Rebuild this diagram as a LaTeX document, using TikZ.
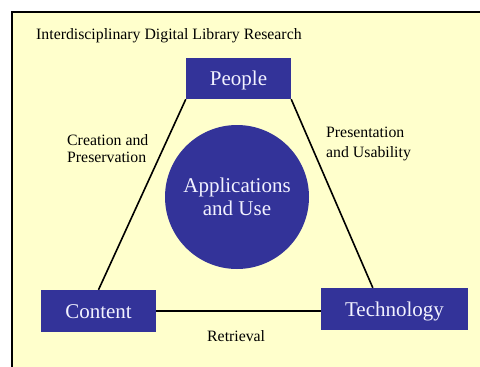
\documentclass[tikz,border=0pt]{standalone}
\usepackage{fontspec}
\setmainfont{Liberation Serif}
\definecolor{bgyellow}{HTML}{FFFFCC}
\definecolor{boxblue}{HTML}{333399}
\definecolor{boxtext}{HTML}{F2F2FF}
\tikzset{
  bluebox/.style={draw=none, fill=boxblue, text=boxtext, inner sep=0pt,
    font=\fontsize{21}{23}\selectfont, text height=14pt, text depth=0pt},
  smalltext/.style={anchor=base west, inner sep=0pt, align=left,
    font=\fontsize{15.8}{18.5}\selectfont, text=black},
  edge/.style={draw=black, line width=1.6pt}
}
\begin{document}
\begin{tikzpicture}[x=1pt, y=-1pt]
\useasboundingbox (0,0) rectangle (480,367);
\fill[white] (0,0) rectangle (480,367);
\fill[bgyellow] (12,12) rectangle (480,367);
\draw[line width=1.5pt] (12,367) -- (12,12) -- (480,12);

\node[smalltext] (title) at (36,39.3) {Interdisciplinary Digital Library Research};

\node[bluebox, minimum width=105pt, minimum height=41pt] (people) at (238.5,78.5) {People};
\node[bluebox, minimum width=115pt, minimum height=42pt] (content) at (98.5,311) {Content};
\node[bluebox, minimum width=147pt, minimum height=42pt] (tech) at (394.5,309) {Technology};

\node[circle, fill=boxblue, text=boxtext, minimum size=144pt, inner sep=0pt,
  align=center, font=\fontsize{21}{23.3}\selectfont] (apps) at (237,197) {Applications\\and Use};

\coordinate (techtop) at ([xshift=52pt]tech.north west);
\draw[edge] (people.south west) -- (content.north);
\draw[edge] (people.south east) -- (techtop);
\draw[edge] (content.east) -- (content.east -| tech.west);

\node[smalltext, font=\fontsize{15.8}{17.7}\selectfont] (creation) at (67,162.7) {Creation and\\Preservation};
\node[smalltext, font=\fontsize{15.8}{19.3}\selectfont] (present) at (326,157) {Presentation\\and Usability};
\node[smalltext] (retr) at (207,341) {Retrieval};
\end{tikzpicture}
\end{document}
